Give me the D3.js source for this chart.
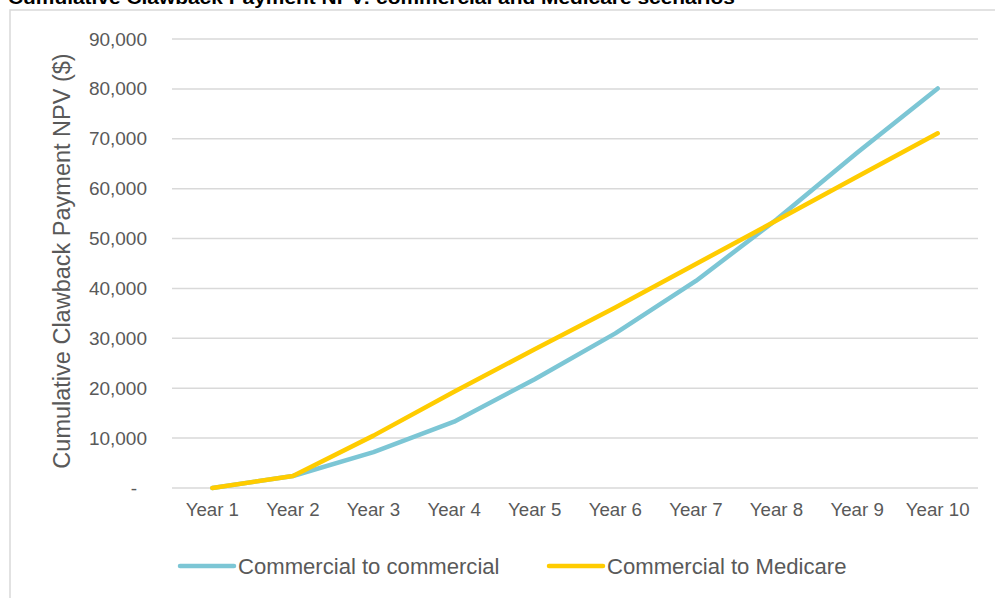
<!DOCTYPE html>
<html>
<head>
<meta charset="utf-8">
<script src="https://cdn.jsdelivr.net/npm/d3@7"></script>
<style>
  html, body { margin: 0; padding: 0; background: #fff; }
  svg { display: block; }
  text { font-family: "Liberation Sans", Arial, sans-serif; }
</style>
</head>
<body>
<svg id="chart" width="995" height="598"></svg>
<script>
const title = "Cumulative Clawback Payment NPV: commercial and Medicare scenarios";
const categories = ["Year 1","Year 2","Year 3","Year 4","Year 5","Year 6","Year 7","Year 8","Year 9","Year 10"];
const seriesNames = ["Commercial to commercial", "Commercial to Medicare"];
const commercialToCommercial = [0, 2400, 7200, 13300, 21800, 31000, 41500, 53800, 67200, 80100];
const commercialToMedicare   = [0, 2400, 10500, 19300, 27800, 36200, 44900, 53600, 62400, 71100];
const yTicks = [0, 10000, 20000, 30000, 40000, 50000, 60000, 70000, 80000, 90000];
const yAxisTitle = "Cumulative Clawback Payment NPV ($)";

const colors = ["#7CC6D5", "#FFCC00"];
const series = [commercialToCommercial, commercialToMedicare];

const svg = d3.select("#chart");

// chart area border
svg.append("rect")
  .attr("x", 10).attr("y", 10)
  .attr("width", 1000).attr("height", 600)
  .attr("fill", "#fff")
  .attr("stroke", "#D9D9D9").attr("stroke-width", 1.5);

// title (cut off at top, as in the reference)
svg.append("text")
  .attr("x", 8).attr("y", 4)
  .attr("font-size", 19).attr("font-weight", "bold")
  .attr("fill", "#000")
  .attr("textLength", 727).attr("lengthAdjust", "spacingAndGlyphs")
  .text(title);

const x = d3.scaleBand().domain(categories).range([172, 978]).padding(0);
const y = d3.scaleLinear().domain([0, 90000]).range([488, 39]);

// gridlines
svg.append("g")
  .selectAll("line")
  .data(yTicks)
  .join("line")
  .attr("x1", 172).attr("x2", 978)
  .attr("y1", d => y(d)).attr("y2", d => y(d))
  .attr("stroke", "#D9D9D9").attr("stroke-width", 1.5);

// y axis labels
const yAxis = d3.axisLeft(y)
  .tickValues(yTicks)
  .tickSize(0)
  .tickPadding(0)
  .tickFormat(d => d === 0 ? "-" : d3.format(",")(d));
const gy = svg.append("g").attr("transform", "translate(147,0)").call(yAxis);
gy.select(".domain").remove();
gy.selectAll("text")
  .attr("font-size", 19)
  .attr("fill", "#595959")
  .attr("font-family", "'Liberation Sans', Arial, sans-serif")
  .attr("dx", d => d === 0 ? -10 : 0);

// x axis labels
const xAxis = d3.axisBottom(x).tickSize(0).tickPadding(0);
const gx = svg.append("g").attr("transform", "translate(0,503)").call(xAxis);
gx.select(".domain").remove();
gx.selectAll("text")
  .attr("font-size", 18.7)
  .attr("fill", "#595959")
  .attr("font-family", "'Liberation Sans', Arial, sans-serif");

// y axis title
svg.append("text")
  .attr("transform", "translate(62,261) rotate(-90)")
  .attr("text-anchor", "middle")
  .attr("dy", "0.35em")
  .attr("font-size", 23.5)
  .attr("fill", "#595959")
  .text(yAxisTitle);

// lines
const line = d3.line()
  .x((d, i) => x(categories[i]) + x.bandwidth() / 2)
  .y(d => y(d));

svg.append("g")
  .selectAll("path")
  .data(series)
  .join("path")
  .attr("d", d => line(d))
  .attr("fill", "none")
  .attr("stroke", (d, i) => colors[i])
  .attr("stroke-width", 4.5)
  .attr("stroke-linecap", "round")
  .attr("stroke-linejoin", "round");

// legend
const legendItems = [
  { name: seriesNames[0], color: colors[0], x: 180 },
  { name: seriesNames[1], color: colors[1], x: 549 }
];
const lg = svg.append("g").selectAll("g").data(legendItems).join("g")
  .attr("transform", d => `translate(${d.x},566)`);
lg.append("line")
  .attr("x1", 0).attr("x2", 54).attr("y1", 0).attr("y2", 0)
  .attr("stroke", d => d.color).attr("stroke-width", 4.5)
  .attr("stroke-linecap", "round");
lg.append("text")
  .attr("x", 58).attr("y", 0).attr("dy", "0.35em")
  .attr("font-size", 22.1)
  .attr("fill", "#595959")
  .text(d => d.name);
</script>
</body>
</html>
